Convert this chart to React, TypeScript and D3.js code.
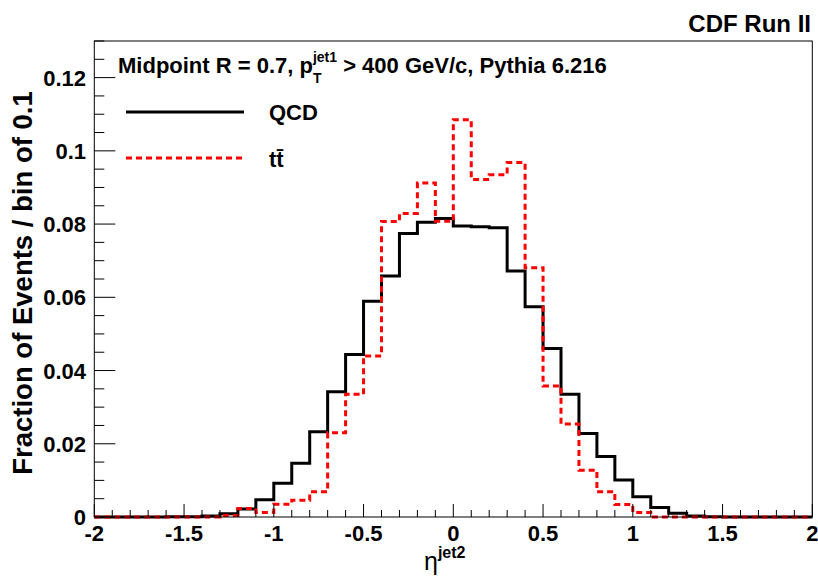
import React from "react";
import * as d3 from "d3";

// Histogram binning: 40 bins of width 0.1 in eta from -2 to 2
const binLow = -2;
const binWidth = 0.1;

// Fraction of events per bin, QCD dijets
const qcdValues = [
  0, 0, 0, 0, 0.0001, 0.0001, 0.0003, 0.0009, 0.0022, 0.0047,
  0.0092, 0.0147, 0.0233, 0.0342, 0.0444, 0.0589, 0.0658, 0.0774, 0.0805, 0.0815,
  0.0795, 0.0793, 0.079, 0.0672, 0.0574, 0.046, 0.0335, 0.0228, 0.0165, 0.0101,
  0.0055, 0.0026, 0.001, 0.0003, 0.0001, 0, 0, 0, 0, 0,
];

// Fraction of events per bin, ttbar
const ttbarValues = [
  0, 0, 0, 0, 0, 0, 0, 0.0004, 0.0023, 0.0012,
  0.0035, 0.0046, 0.0069, 0.023, 0.0335, 0.044, 0.0807, 0.0829, 0.0912, 0.0808,
  0.1085, 0.0922, 0.0935, 0.0968, 0.0681, 0.0358, 0.0254, 0.0128, 0.0069, 0.0034,
  0.0012, 0, 0, 0, 0, 0, 0, 0, 0, 0,
];

const xMajorTicks = [-2, -1.5, -1, -0.5, 0, 0.5, 1, 1.5, 2];
const xTickLabels = ["-2", "-1.5", "-1", "-0.5", "0", "0.5", "1", "1.5", "2"];
const yMajorTicks = [0, 0.02, 0.04, 0.06, 0.08, 0.1, 0.12];
const yTickLabels = ["0", "0.02", "0.04", "0.06", "0.08", "0.1", "0.12"];

const W = 818;
const H = 579;
const FONT = "'Liberation Sans', Arial, Helvetica, sans-serif";

function stepPoints(values: number[]): [number, number][] {
  const pts: [number, number][] = [];
  values.forEach((v, i) => {
    const lo = binLow + i * binWidth;
    pts.push([lo, v]);
    pts.push([lo + binWidth, v]);
  });
  return pts;
}

export default function App() {
  const x = d3.scaleLinear().domain([-2, 2]).range([94.3, 812.3]);
  const y = d3.scaleLinear().domain([0, 0.13]).range([517, 41]);

  const line = d3
    .line<[number, number]>()
    .x((d) => x(d[0]))
    .y((d) => y(d[1]));

  const xMinor = d3.range(0, 41).map((i) => -2 + i * 0.1);
  const yMinor = d3.range(0, 27).map((i) => i * 0.005);

  const [x0, x1] = x.range();
  const [yb, yt] = y.range();

  return (
    <svg width={W} height={H} style={{ display: "block", position: "absolute", left: 0, top: 0 }}>
      <rect x={0} y={0} width={W} height={H} fill="#fff" />

      {/* histograms */}
      <path d={line(stepPoints(qcdValues)) || ""} fill="none" stroke="#000" strokeWidth={3} />
      <path
        d={line(stepPoints(ttbarValues)) || ""}
        fill="none"
        stroke="#ff0000"
        strokeWidth={3}
        strokeDasharray="6,4"
      />

      {/* frame */}
      <rect x={x0} y={yt} width={x1 - x0} height={yb - yt} fill="none" stroke="#000" strokeWidth={1} />

      {/* x ticks */}
      {xMinor.map((t, i) => {
        const major = Math.abs(t * 2 - Math.round(t * 2)) < 1e-6;
        return (
          <line key={"xm" + i} x1={x(t)} x2={x(t)} y1={yb} y2={yb - (major ? 13 : 7)} stroke="#000" strokeWidth={1} />
        );
      })}
      {xMajorTicks.map((t, i) => (
        <text
          key={"xl" + i}
          x={x(t)}
          y={541}
          textAnchor="middle"
          fontFamily={FONT}
          fontWeight="bold"
          fontSize={22}
        >
          {xTickLabels[i]}
        </text>
      ))}

      {/* y ticks */}
      {yMinor.map((t, i) => {
        const major = i % 4 === 0;
        return (
          <line key={"ym" + i} x1={x0} x2={x0 + (major ? 21 : 10)} y1={y(t)} y2={y(t)} stroke="#000" strokeWidth={1} />
        );
      })}
      {yMajorTicks.map((t, i) => (
        <text
          key={"yl" + i}
          x={86}
          y={y(t) + 8}
          textAnchor="end"
          fontFamily={FONT}
          fontWeight="bold"
          fontSize={22}
        >
          {yTickLabels[i]}
        </text>
      ))}

      {/* axis titles */}
      <text
        transform={`translate(32,283) rotate(-90)`}
        textAnchor="middle"
        fontFamily={FONT}
        fontWeight="bold"
        fontSize={27.5}
      >
        Fraction of Events / bin of 0.1
      </text>
      <text x={424} y={570} fontFamily={FONT} fontSize={25}>
        η
        <tspan dy={-12} fontSize={16} fontWeight="bold">
          jet2
        </tspan>
      </text>

      {/* title */}
      <text x={811} y={32} textAnchor="end" fontFamily={FONT} fontWeight="bold" fontSize={24}>
        CDF Run II
      </text>

      {/* legend */}
      <text x={118} y={73} fontFamily={FONT} fontWeight="bold" fontSize={22}>
        Midpoint R = 0.7, p
        <tspan dy={10} fontSize={14}>
          T
        </tspan>
        <tspan dx={-8.6} dy={-21} fontSize={14}>
          jet1
        </tspan>
        <tspan dy={11}> &gt; 400 GeV/c, Pythia 6.216</tspan>
      </text>

      <line x1={126} x2={244} y1={112} y2={112} stroke="#000" strokeWidth={3} />
      <text x={269} y={120} fontFamily={FONT} fontWeight="bold" fontSize={22}>
        QCD
      </text>
      <line x1={126} x2={244} y1={158} y2={158} stroke="#ff0000" strokeWidth={3} strokeDasharray="6,4" />
      <text x={269} y={167} fontFamily={FONT} fontWeight="bold" fontSize={22}>
        tt̄
      </text>
    </svg>
  );
}
